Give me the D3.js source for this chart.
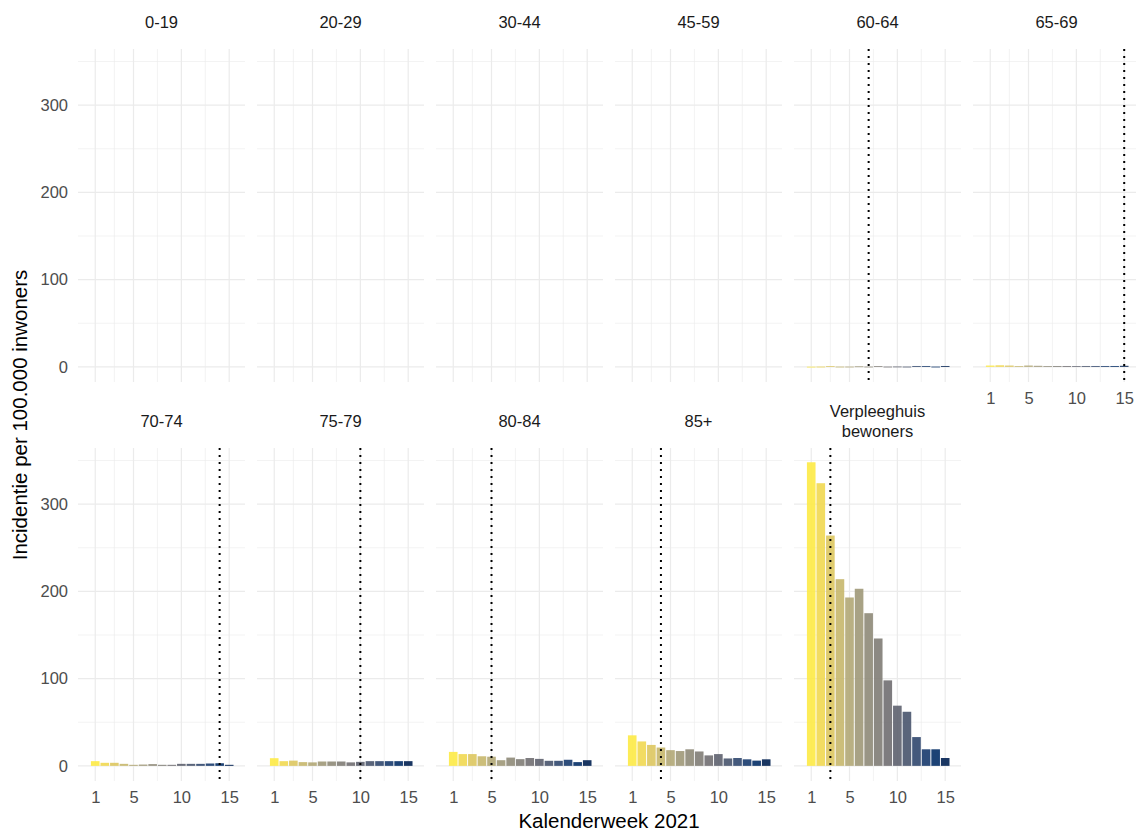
<!DOCTYPE html>
<html>
<head>
<meta charset="utf-8">
<script src="https://cdn.jsdelivr.net/npm/d3@7"></script>
<style>
  body { margin: 0; background: #fff; }
  svg text { font-family: "Liberation Sans", Arial, Helvetica, sans-serif; }
</style>
</head>
<body>
<div id="container"></div>
<script>
const weeks = [1, 2, 3, 4, 5, 6, 7, 8, 9, 10, 11, 12, 13, 14, 15];
const groups = ["0-19", "20-29", "30-44", "45-59", "60-64", "65-69",
                "70-74", "75-79", "80-84", "85+", "Verpleeghuis\nbewoners"];

// incidentie per 100.000 per week, per group
const v0_19 = [0, 0, 0, 0, 0, 0, 0, 0, 0, 0, 0, 0, 0, 0, 0];
const v20_29 = [0, 0, 0, 0, 0, 0, 0, 0, 0, 0, 0, 0, 0, 0, 0];
const v30_44 = [0, 0, 0, 0, 0, 0, 0, 0, 0, 0, 0, 0, 0, 0, 0];
const v45_59 = [0, 0, 0, 0, 0, 0, 0, 0, 0, 0, 0, 0, 0, 0, 0];
const v60_64 = [0.2, 0.3, 0.8, 0.3, 0.3, 0.6, 0.3, 0.8, 0.3, 0.4, 0.3, 1, 1, 0.3, 1];
const v65_69 = [1.5, 1.8, 1.5, 0.8, 1.5, 1.2, 0.8, 1, 1, 0.8, 1, 1, 1, 1, 1.2];
const v70_74 = [5.4, 3.5, 3.5, 2.3, 1.2, 1.5, 2, 1.2, 1.2, 2.3, 2.3, 2.3, 2.7, 3, 1.2];
const v75_79 = [8.8, 5.4, 6, 4.3, 4, 5, 5, 5, 4, 4.6, 5.4, 5.4, 5.4, 5.4, 5.4];
const v80_84 = [16, 13.5, 13.5, 11, 10.5, 6.5, 9.5, 7.7, 9, 8, 5.8, 5.8, 7, 4.3, 6.5];
const v85plus = [35, 28, 24, 21, 18, 17, 19, 16.5, 12, 13.5, 8.5, 9, 7.5, 6, 7.5];
const vVerpleeg = [348, 324, 264, 214, 193, 203, 175, 146, 98, 69, 62, 33, 19, 19, 9];
const seriesValues = [v0_19, v20_29, v30_44, v45_59, v60_64, v65_69,
                      v70_74, v75_79, v80_84, v85plus, vVerpleeg];

// week of the dotted marker per group (null = none)
const markerWeek = [null, null, null, null, 7, 15, 14, 10, 5, 4, 3];

const xTicks = [1, 5, 10, 15];
const xMinor = [3, 7.5, 12.5];
const yTicks = [0, 100, 200, 300];
const yMinor = [50, 150, 250, 350];

const width = 1136;
const height = 832;
const ncol = 6;
const panelW = 167;
const panelH = 333;
const colLeft = 78;
const colStep = 179;
const rowTop = [49, 448];

const x = d3.scaleLinear().domain([-0.8, 16.65]).range([0, panelW]);
const y = d3.scaleLinear().domain([-17.35, 364.35]).range([panelH, 0]);
const color = w => d3.interpolateCividis(1 - (w - 1) / 14);

const svg = d3.create("svg")
  .attr("width", width)
  .attr("height", height);

groups.forEach((g, i) => {
  const row = Math.floor(i / ncol);
  const col = i % ncol;
  const left = colLeft + col * colStep;
  const top = rowTop[row];
  const panel = svg.append("g").attr("transform", `translate(${left},${top})`);

  // grid
  const grid = panel.append("g").attr("stroke", "#ebebeb").attr("fill", "none");
  yMinor.forEach(t => grid.append("line").attr("x1", 0).attr("x2", panelW)
    .attr("y1", y(t)).attr("y2", y(t)).attr("stroke-width", 0.6));
  xMinor.forEach(t => grid.append("line").attr("y1", 0).attr("y2", panelH)
    .attr("x1", x(t)).attr("x2", x(t)).attr("stroke-width", 0.6));
  yTicks.forEach(t => grid.append("line").attr("x1", 0).attr("x2", panelW)
    .attr("y1", y(t)).attr("y2", y(t)).attr("stroke-width", 1.2));
  xTicks.forEach(t => grid.append("line").attr("y1", 0).attr("y2", panelH)
    .attr("x1", x(t)).attr("x2", x(t)).attr("stroke-width", 1.2));

  // bars
  const data = weeks.map((w, k) => ({ w: w, v: seriesValues[i][k] }));
  panel.selectAll("rect.bar")
    .data(data.filter(d => d.v > 0))
    .join("rect")
    .attr("class", "bar")
    .attr("x", d => x(d.w - 0.45))
    .attr("width", x(0.9) - x(0))
    .attr("y", d => y(d.v))
    .attr("height", d => Math.max(y(0) - y(d.v), 0.8))
    .attr("fill", d => color(d.w))
    .attr("fill-opacity", 0.9);

  // dotted marker
  if (markerWeek[i] != null) {
    panel.append("line")
      .attr("x1", x(markerWeek[i])).attr("x2", x(markerWeek[i]))
      .attr("y1", 0).attr("y2", panelH)
      .attr("stroke", "#000")
      .attr("stroke-width", 2)
      .attr("stroke-dasharray", "2,5");
  }

  // strip label
  const lines = g.split("\n");
  const strip = panel.append("text")
    .attr("x", panelW / 2)
    .attr("text-anchor", "middle")
    .attr("font-size", 16.5)
    .attr("fill", "#1a1a1a");
  lines.forEach((ln, k) => {
    strip.append("tspan")
      .attr("x", panelW / 2)
      .attr("y", lines.length === 1 ? -21 : -31 + k * 20)
      .text(ln);
  });

  // y axis on first column
  if (col === 0) {
    const ya = panel.append("g")
      .call(d3.axisLeft(y).tickValues(yTicks).tickSize(0).tickPadding(10));
    ya.select(".domain").remove();
    ya.selectAll("text").attr("font-size", 16.5).attr("fill", "#4d4d4d")
      .attr("font-family", "Liberation Sans, Arial, sans-serif");
  }

  // x axis on bottom row or panels with nothing below
  if (row === 1 || i + ncol >= groups.length) {
    const xa = panel.append("g")
      .attr("transform", `translate(0,${panelH})`)
      .call(d3.axisBottom(x).tickValues(xTicks).tickSize(0).tickPadding(10));
    xa.select(".domain").remove();
    xa.selectAll("text").attr("font-size", 16.5).attr("fill", "#4d4d4d")
      .attr("font-family", "Liberation Sans, Arial, sans-serif");
  }
});

// axis titles
svg.append("text")
  .attr("x", colLeft + (ncol * colStep - (colStep - panelW)) / 2)
  .attr("y", 828)
  .attr("text-anchor", "middle")
  .attr("font-size", 20.5)
  .attr("fill", "#000")
  .text("Kalenderweek 2021");

svg.append("text")
  .attr("transform", `translate(27,${(rowTop[0] + rowTop[1] + panelH) / 2}) rotate(-90)`)
  .attr("text-anchor", "middle")
  .attr("font-size", 20.5)
  .attr("fill", "#000")
  .text("Incidentie per 100.000 inwoners");

container.append(svg.node());
</script>
</body>
</html>
